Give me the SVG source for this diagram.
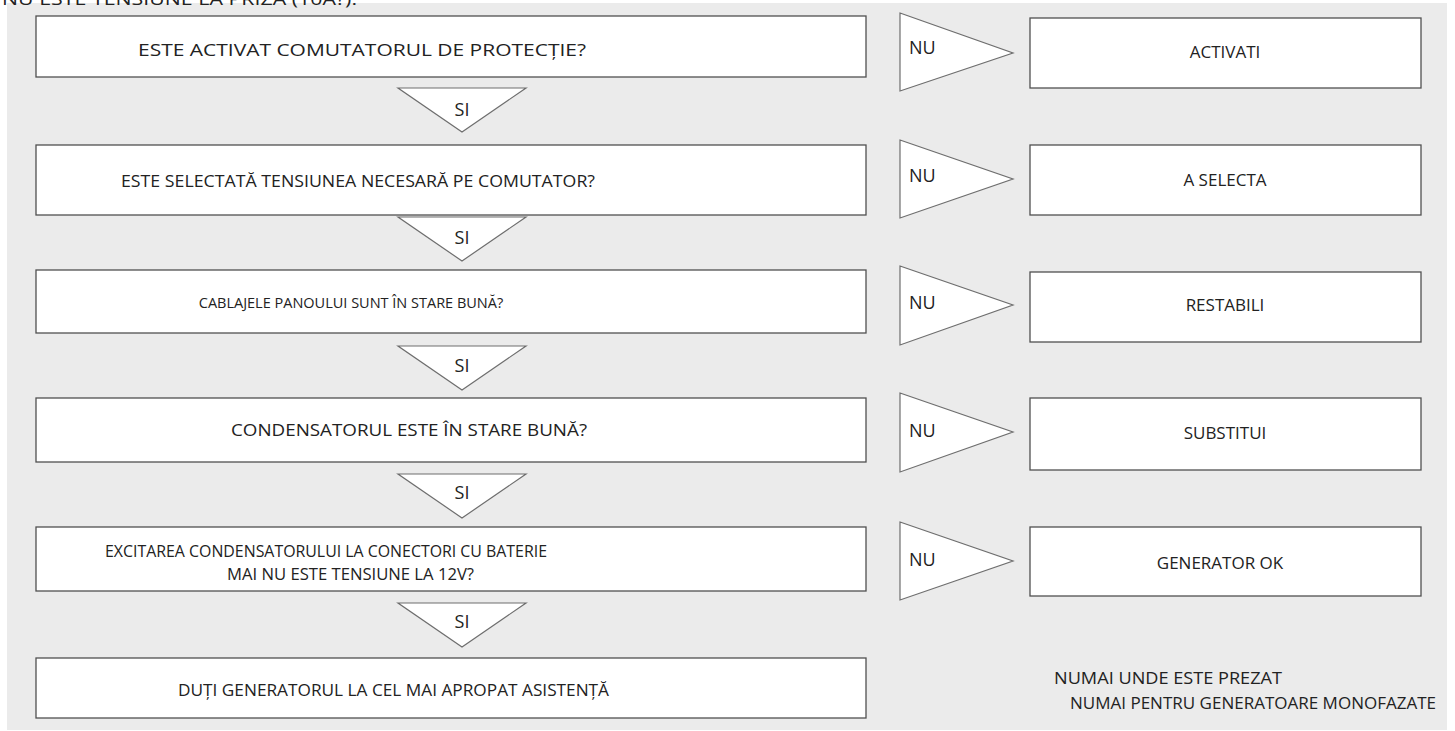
<svg xmlns="http://www.w3.org/2000/svg" width="1455" height="731" viewBox="0 0 1455 731">
<style>
text{font-family:"Open Sans","Noto Sans","Liberation Sans",sans-serif;fill:#222;font-size:17px}
.c{text-anchor:middle}
.lb{font-size:18px}
.box{fill:#fff;stroke:#505050;stroke-width:1.3}
.tri{fill:#fff;stroke:#6e6e6e;stroke-width:1.2}
</style>
<rect x="0" y="0" width="1455" height="731" fill="#fff"/>
<rect x="7" y="3" width="1440" height="727" fill="#ebebeb"/>
<text x="2" y="5" textLength="355" lengthAdjust="spacingAndGlyphs">NU ESTE TENSIUNE LA PRIZĂ (10A?).</text>

<g id="q1"><rect class="box" x="36" y="16" width="830" height="61"/><text x="138" y="56" textLength="448" lengthAdjust="spacingAndGlyphs">ESTE ACTIVAT COMUTATORUL DE PROTECȚIE?</text></g>
<g id="q2"><rect class="box" x="36" y="145" width="830" height="70"/><text x="121" y="187" textLength="474" lengthAdjust="spacingAndGlyphs">ESTE SELECTATĂ TENSIUNEA NECESARĂ PE COMUTATOR?</text></g>
<g id="q3"><rect class="box" x="36" y="270" width="830" height="63"/><text class="c" x="351" y="308" style="font-size:14.5px">CABLAJELE PANOULUI SUNT ÎN STARE BUNĂ?</text></g>
<g id="q4"><rect class="box" x="36" y="398" width="830" height="64"/><text x="231" y="436" textLength="356" lengthAdjust="spacingAndGlyphs">CONDENSATORUL ESTE ÎN STARE BUNĂ?</text></g>
<g id="q5"><rect class="box" x="36" y="527" width="830" height="64"/><text x="105" y="557" textLength="442" lengthAdjust="spacingAndGlyphs">EXCITAREA CONDENSATORULUI LA CONECTORI CU BATERIE</text><text x="227" y="580" textLength="247" lengthAdjust="spacingAndGlyphs">MAI NU ESTE TENSIUNE LA 12V?</text></g>
<g id="q6"><rect class="box" x="36" y="658" width="830" height="60"/><text x="178" y="696" textLength="431" lengthAdjust="spacingAndGlyphs">DUȚI GENERATORUL LA CEL MAI APROPAT ASISTENȚĂ</text></g>

<g id="a1"><rect class="box" x="1030" y="18" width="391" height="70"/><text class="c" x="1225" y="58">ACTIVATI</text></g>
<g id="a2"><rect class="box" x="1030" y="145" width="391" height="70"/><text class="c" x="1225" y="186">A SELECTA</text></g>
<g id="a3"><rect class="box" x="1030" y="272" width="391" height="70"/><text class="c" x="1225" y="311">RESTABILI</text></g>
<g id="a4"><rect class="box" x="1030" y="398" width="391" height="72"/><text class="c" x="1225" y="439">SUBSTITUI</text></g>
<g id="a5"><rect class="box" x="1030" y="527" width="391" height="69"/><text class="c" x="1220" y="569">GENERATOR OK</text></g>

<g id="connectors">
<polygon class="tri" points="900,13 1013,53 900,91"/><text class="lb" x="909" y="54">NU</text>
<polygon class="tri" points="900,140 1013,179 900,218"/><text class="lb" x="909" y="182">NU</text>
<polygon class="tri" points="900,266 1013,305 900,345"/><text class="lb" x="909" y="309">NU</text>
<polygon class="tri" points="900,393 1013,432 900,472"/><text class="lb" x="909" y="437">NU</text>
<polygon class="tri" points="900,522 1013,561 900,600"/><text class="lb" x="909" y="566">NU</text>
<polygon class="tri" points="398,88 526,88 462,132"/><text class="c lb" x="462" y="116">SI</text>
<polygon class="tri" points="398,217 526,217 462,261"/><text class="c lb" x="462" y="244">SI</text>
<polygon class="tri" points="398,346 526,346 462,390"/><text class="c lb" x="462" y="372">SI</text>
<polygon class="tri" points="398,474 526,474 462,518"/><text class="c lb" x="462" y="499">SI</text>
<polygon class="tri" points="398,603 526,603 462,647"/><text class="c lb" x="462" y="628">SI</text>
</g>

<text x="1054" y="684" textLength="228" lengthAdjust="spacingAndGlyphs">NUMAI UNDE ESTE PREZAT</text>
<text x="1070" y="709" textLength="366" lengthAdjust="spacingAndGlyphs">NUMAI PENTRU GENERATOARE MONOFAZATE</text>
</svg>
